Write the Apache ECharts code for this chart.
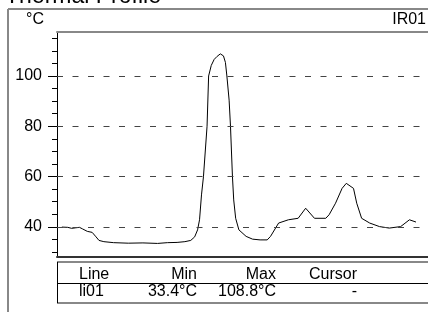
<!DOCTYPE html>
<html><head><meta charset="utf-8">
<script src="https://cdn.jsdelivr.net/npm/echarts@6/dist/echarts.min.js"></script>
<style>html,body{margin:0;padding:0;background:#fff}#c{width:428px;height:312px}</style>
</head><body><div id="c"></div>
<script>
// Position along the profile line (arbitrary units) and temperature (°C)
const positions = [5,11,15,19,23,26,31,36,40,43,48,58,73,88,103,113,123,131,137,141,144,146,148,150,153.7,155.3,158,161,164,167.3,170.5,172.5,174,176.3,177.7,179.7,181,183,186.3,193.7,200.3,208,215.3,218.7,227,237,247,254.7,263.7,275.3,278.7,285.3,292,296.3,303.7,307,312,320.3,330.3,340.3,352,361,367.7];
const temps = [39.9,39.8,39.4,39.6,39.8,39.2,38.2,37.8,36.0,34.6,34.1,33.7,33.5,33.6,33.4,33.7,33.8,34.1,34.6,36.0,38.8,42.8,52.7,59.9,80,100,104.2,106.6,107.8,108.8,108.0,105.4,100,90.4,80,60,50.7,43.4,38.8,36.2,35.1,34.8,34.8,36.2,41.5,42.8,43.4,47.4,43.4,43.4,44.8,49.4,55.3,57.3,55.3,49.4,43.4,41.5,40.1,39.5,40.1,42.8,41.9];
const majorTicks = [40, 60, 80, 100];
const minorTicks = [30, 35, 45, 50, 55, 65, 70, 75, 85, 90, 95, 105, 110, 115];
const yMin = 28, yMax = 117.5;
const titleText = 'Thermal Profile';
const unitText = '°C';
const sourceText = 'IR01';
const tableHeaders = ['Line', 'Min', 'Max', 'Cursor'];
const tableRow = ['li01', '33.4°C', '108.8°C', '-'];

const FONT = '"Liberation Sans", Arial, Helvetica, sans-serif';
const data = positions.map((p, i) => [p, temps[i]]);
const chart = echarts.init(document.getElementById('c'), null, {renderer: 'canvas'});

function txt(x, y, s, align, size) {
  return {type: 'text', x: x, y: y, silent: true,
    style: {text: s, fill: '#000', font: (size || 16) + 'px ' + FONT, textAlign: align || 'left', textVerticalAlign: 'middle'}};
}
function ln(x1, y1, x2, y2, color, w) {
  return {type: 'line', silent: true, shape: {x1: x1, y1: y1, x2: x2, y2: y2}, style: {stroke: color, lineWidth: w}};
}
const colRight = [null, 197, 276, 357];
const graphics = [
  ln(8, 9, 428, 9, '#888', 2),
  ln(8, 9, 8, 312, '#888', 2),
  ln(57, 262, 428, 262, '#888', 2),
  ln(57, 303, 428, 303, '#888', 2),
  ln(57, 283.5, 428, 283.5, '#000', 1),
  ln(57.5, 262, 57.5, 303, '#000', 1),
  txt(5, -3.5, titleText, 'left', 23),
  txt(26, 19.5, unitText, 'left', 16),
  txt(426, 19.5, sourceText, 'right', 16),
];
tableHeaders.forEach((h, i) => {
  if (i === 0) graphics.push(txt(79, 274.5, h, 'left'));
  else graphics.push(txt(colRight[i], 274.5, h, 'right'));
});
tableRow.forEach((h, i) => {
  if (i === 0) graphics.push(txt(79, 292, h, 'left'));
  else graphics.push(txt(colRight[i], 292, h, 'right'));
});

const option = {
  animation: false,
  grid: [
    {left: 57, top: 32, width: 380, height: 225, show: false},
    {left: 57, top: 32, width: 380, height: 225, show: false}
  ],
  xAxis: [
    {type: 'value', gridIndex: 0, min: 0, max: 380, position: 'bottom',
      axisLine: {show: true, onZero: false, lineStyle: {color: '#333', width: 2}},
      axisTick: {show: false}, axisLabel: {show: false}, splitLine: {show: false}},
    {type: 'value', gridIndex: 0, min: 0, max: 380, position: 'top',
      axisLine: {show: true, onZero: false, lineStyle: {color: '#888', width: 2}},
      axisTick: {show: false}, axisLabel: {show: false}, splitLine: {show: false}},
    {type: 'value', gridIndex: 1, min: 0, max: 380, show: false}
  ],
  yAxis: [
    {type: 'value', gridIndex: 0, min: yMin, max: yMax, position: 'left',
      axisLine: {show: true, onZero: false, lineStyle: {color: '#000', width: 1}},
      axisTick: {show: true, length: 5, customValues: minorTicks, lineStyle: {color: '#000', width: 1}},
      axisLabel: {show: false}, splitLine: {show: false}},
    {type: 'value', gridIndex: 1, min: yMin, max: yMax, position: 'left',
      axisLine: {show: false, onZero: false},
      axisTick: {show: true, length: 9, customValues: majorTicks, lineStyle: {color: '#000', width: 1}},
      axisLabel: {show: true, customValues: majorTicks, fontSize: 16, color: '#000', fontFamily: FONT, margin: 15},
      splitLine: {show: false}}
  ],
  series: [{
    type: 'line', xAxisIndex: 0, yAxisIndex: 0, data: data, symbol: 'none', silent: true,
    lineStyle: {color: '#000', width: 1},
    markLine: {
      silent: true, symbol: 'none', label: {show: false},
      lineStyle: {type: [6, 9.5], color: '#444', width: 1},
      emphasis: {disabled: true},
      data: majorTicks.map(v => ({yAxis: v}))
    }
  }],
  graphic: graphics
};
chart.setOption(option);
</script>
</body></html>
